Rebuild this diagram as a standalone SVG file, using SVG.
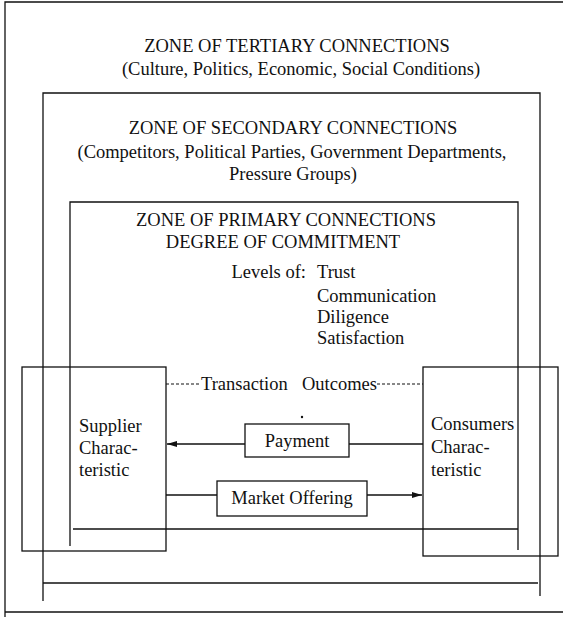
<svg xmlns="http://www.w3.org/2000/svg" width="563" height="624" viewBox="0 0 563 624">
<defs>
<style>
.ln{stroke:#111;stroke-width:1.3;fill:none}
.bx{stroke:#111;stroke-width:1.3;fill:#fff}
.dash{stroke:#111;stroke-width:1.2;stroke-dasharray:3,2;fill:none}
text{font-family:"Liberation Serif","Times New Roman",serif;font-size:18.5px;fill:#111}
.c{text-anchor:middle}
</style>
<marker id="ah" viewBox="0 0 10 6" refX="10" refY="3" markerWidth="13" markerHeight="6" markerUnits="userSpaceOnUse" orient="auto">
<path d="M0,0 L10,3 L0,6 z" fill="#111"/>
</marker>
</defs>
<rect width="563" height="624" fill="#fff"/>

<g id="tertiary">
<path class="ln" d="M5,617 V2 H563"/>
<path class="ln" d="M5,612 H563"/>
<text class="c" x="297" y="52">ZONE OF TERTIARY CONNECTIONS</text>
<text class="c" x="301" y="75">(Culture, Politics, Economic, Social Conditions)</text>
</g>

<g id="secondary">
<path class="ln" d="M43,601 V93 H540 V596"/>
<path class="ln" d="M43,583 H538"/>
<text class="c" x="293" y="134">ZONE OF SECONDARY CONNECTIONS</text>
<text class="c" x="292" y="158">(Competitors, Political Parties, Government Departments,</text>
<text class="c" x="293" y="180">Pressure Groups)</text>
</g>

<g id="primary">
<path class="ln" d="M70,546 V202 H518 V550"/>
<path class="ln" d="M73,529 H518"/>
<text class="c" x="286" y="226">ZONE OF PRIMARY CONNECTIONS</text>
<text class="c" x="283" y="248">DEGREE OF COMMITMENT</text>
<text x="306" y="278" text-anchor="end">Levels of:</text>
<text x="317" y="278">Trust</text>
<text x="317" y="302">Communication</text>
<text x="317" y="323">Diligence</text>
<text x="317" y="344">Satisfaction</text>
</g>

<g id="supplier">
<rect class="bx" x="22" y="367" width="144" height="184" style="fill:none"/>
<text x="79" y="432">Supplier</text>
<text x="79" y="454">Charac-</text>
<text x="79" y="476">teristic</text>
</g>

<g id="consumer">
<rect class="bx" x="423" y="367" width="135" height="189" style="fill:none"/>
<text x="431" y="430">Consumers</text>
<text x="431" y="453">Charac-</text>
<text x="431" y="476">teristic</text>
</g>

<g id="transaction">
<text x="201" y="390">Transaction</text>
<text x="302" y="390">Outcomes</text>
</g>

<g id="payment">
<rect class="bx" x="245" y="424" width="104" height="33"/>
<text class="c" x="297" y="447">Payment</text>
</g>

<g id="market">
<rect class="bx" x="217" y="481" width="150" height="35"/>
<text class="c" x="292" y="504">Market Offering</text>
</g>

<circle cx="302" cy="417" r="1.2" fill="#111"/>

<g id="connectors">
<path class="dash" d="M166,384 H201"/>
<path class="dash" d="M377,384 H423"/>
<path class="ln" d="M245,444 H167" marker-end="url(#ah)"/>
<path class="ln" d="M349,444 H423"/>
<path class="ln" d="M166,495 H217"/>
<path class="ln" d="M367,495 H422" marker-end="url(#ah)"/>
</g>
</svg>
